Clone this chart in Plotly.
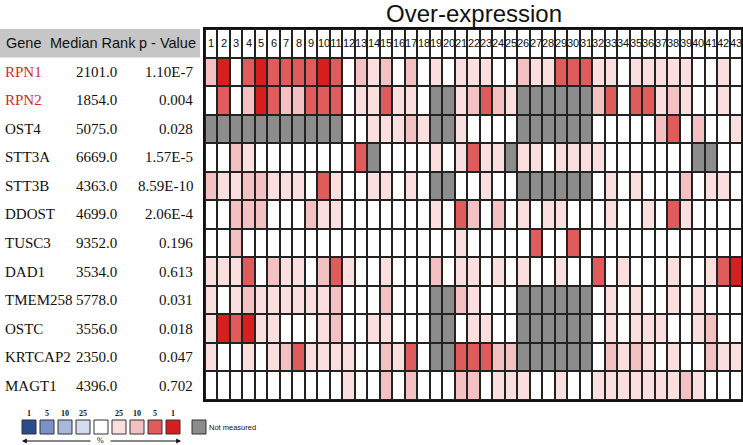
import plotly.graph_objects as go

W, H = 743, 445
G = -1  # not measured

genes = ["RPN1", "RPN2", "OST4", "STT3A", "STT3B", "DDOST", "TUSC3", "DAD1",
         "TMEM258", "OSTC", "KRTCAP2", "MAGT1"]
gene_colors = ["#d42a24", "#d42a24"] + ["#111111"] * 10
median_rank = ["2101.0", "1854.0", "5075.0", "6669.0", "4363.0", "4699.0",
               "9352.0", "3534.0", "5778.0", "3556.0", "2350.0", "4396.0"]
p_values = ["1.10E-7", "0.004", "0.028", "1.57E-5", "8.59E-10", "2.06E-4",
            "0.196", "0.613", "0.031", "0.018", "0.047", "0.702"]
columns = list(range(1, 44))

# level: 0 none, 1 = top 25%, 2 = top 10%, 3 = top 5%, 4 = top 1%, G = not measured
RPN1 = [2,4,0,3,4,3,3,3,3,4,3, 0,2,1,2,0,2,0,1,0,1, 1,1,0,0,2,1,1,3,3,3, 1,1,0,1,1,1,1,1,0,0,1,0]
RPN2 = [0,3,0,2,4,3,2,2,3,3,3, 0,1,1,3,1,1,0,G,G,1, 2,3,2,1,G,G,G,G,G,G, 2,3,0,3,3,1,2,1,0,0,1,0]
OST4 = [G,G,G,G,G,G,G,G,G,G,G, 0,0,1,1,1,2,1,G,G,1, 0,0,0,0,G,G,G,G,G,G, 0,0,0,0,0,2,3,0,2,0,0,1]
STT3A = [0,0,2,1,0,0,0,0,0,0,0, 0,3,G,0,0,0,0,1,0,1, 3,1,1,G,1,1,0,1,1,1, 1,0,0,0,0,0,0,0,G,G,0,0]
STT3B = [2,1,1,2,2,1,1,1,0,3,1, 0,0,1,1,0,1,0,G,G,0, 0,1,0,0,G,G,G,G,G,G, 0,1,0,1,0,0,0,2,0,1,1,0]
DDOST = [0,0,2,2,2,0,0,0,2,1,1, 0,0,0,0,0,0,0,1,0,3, 2,0,2,0,1,0,1,1,0,0, 0,1,0,0,1,0,3,1,0,0,0,0]
TUSC3 = [0,0,2,0,0,0,0,0,0,0,0, 0,0,0,0,0,0,0,0,0,1, 0,0,0,0,0,3,0,0,3,0, 0,0,0,0,0,0,0,0,0,0,0,0]
DAD1 = [1,1,1,3,0,2,1,1,0,2,3, 1,0,0,1,0,0,0,2,0,1, 1,0,1,0,1,0,0,1,0,0, 3,0,1,0,0,0,1,0,0,1,3,4]
TMEM258 = [1,0,1,2,1,1,1,1,1,1,2, 0,0,0,2,0,0,0,G,G,2, 1,0,0,0,G,G,G,G,G,G, 0,1,0,1,0,0,1,0,1,0,0,0]
OSTC = [1,4,3,4,1,1,0,0,0,1,2, 0,0,1,1,0,0,0,G,G,0, 1,1,0,0,G,G,G,G,G,G, 0,1,0,1,1,1,0,0,1,2,0,0]
KRTCAP2 = [1,0,0,1,0,1,2,3,1,1,1, 1,0,0,2,1,3,0,G,G,3, 3,3,2,2,G,G,G,G,G,G, 0,2,1,2,1,0,1,0,0,2,1,1]
MAGT1 = [0,0,0,0,0,0,0,0,0,0,0, 1,0,0,2,0,2,0,0,0,2, 2,0,1,1,1,0,0,1,0,0, 1,1,1,1,1,1,1,2,1,0,0,0]
rows = [RPN1, RPN2, OST4, STT3A, STT3B, DDOST, TUSC3, DAD1, TMEM258, OSTC, KRTCAP2, MAGT1]

legend_labels = ["1", "5", "10", "25", "", "25", "10", "5", "1"]
legend_colors = ["#2b4c8c", "#7a92c8", "#a8b7dc", "#d4dcef", "#ffffff",
                 "#fbdfdf", "#f4c1c3", "#e05c5c", "#d81f1f"]
gray = "#8c8c8c"
lvl_colors = [gray, "#ffffff", "#fbdfdf", "#f4c1c3", "#e05c5c", "#d81f1f"]

# header row (column numbers) + data rows
z = [[0] * len(columns)] + rows
text = [[str(c) for c in columns]] + [[""] * len(columns) for _ in rows]
yvals = list(range(len(z)))

cs = []
n = len(lvl_colors)
for i, c in enumerate(lvl_colors):
    cs.append([i / n, c])
    cs.append([(i + 1) / n, c])

fig = go.Figure(go.Heatmap(
    z=z, x=columns, y=yvals, text=text, texttemplate="%{text}",
    textfont=dict(family="Liberation Sans, Arial", size=11, color="#111"),
    colorscale=cs, zmin=-1.5, zmax=4.5, showscale=False,
    xgap=2, ygap=2, hoverinfo="skip"))

x0p, x1p = 205 / W, 742 / W
y0p, y1p = 1 - 400 / H, 1 - 29 / H
fig.update_xaxes(domain=[x0p, x1p], range=[0.5, 43.5], showticklabels=False,
                 showgrid=False, zeroline=False, showline=True, mirror=True,
                 linecolor="#111", linewidth=1.5)
fig.update_yaxes(domain=[y0p, y1p], range=[12.5, -0.5], showticklabels=False,
                 showgrid=False, zeroline=False, showline=True, mirror=True,
                 linecolor="#111", linewidth=1.5)

ann = []
shapes = []
# title
ann.append(dict(text="Over-expression", x=(x0p + x1p) / 2, y=1 - 13 / H,
                xref="paper", yref="paper", xanchor="center", yanchor="middle",
                showarrow=False,
                font=dict(family="Liberation Sans, Arial", size=24, color="#111")))
# table header band
shapes.append(dict(type="rect", xref="paper", yref="y", x0=0, x1=200 / W,
                   y0=-0.5, y1=0.5, fillcolor="#c6c6c6", line=dict(width=0), layer="below"))
hfont = dict(family="Liberation Sans, Arial", size=14.5, color="#111")
ann.append(dict(text="Gene", x=4 / W, y=0, xref="paper", yref="y", xanchor="left",
                yanchor="middle", showarrow=False, font=hfont))
ann.append(dict(text="Median Rank", x=48 / W, y=0, xref="paper", yref="y", xanchor="left",
                yanchor="middle", showarrow=False, font=hfont))
ann.append(dict(text="p - Value", x=198 / W, y=0, xref="paper", yref="y", xanchor="right",
                yanchor="middle", showarrow=False, font=hfont))
tfont = "Liberation Serif, Times New Roman"
for i, g in enumerate(genes):
    yy = i + 1
    ann.append(dict(text=g, x=3 / W, y=yy, xref="paper", yref="y", xanchor="left",
                    yanchor="middle", showarrow=False,
                    font=dict(family=tfont, size=15, color=gene_colors[i])))
    ann.append(dict(text=median_rank[i], x=119 / W, y=yy, xref="paper", yref="y",
                    xanchor="right", yanchor="middle", showarrow=False,
                    font=dict(family=tfont, size=15, color="#111")))
    ann.append(dict(text=p_values[i], x=195 / W, y=yy, xref="paper", yref="y",
                    xanchor="right", yanchor="middle", showarrow=False,
                    font=dict(family=tfont, size=15, color="#111")))

# colour key
def px(x):
    return x / W

def py(y):
    return 1 - y / H

for i, (lab, col) in enumerate(zip(legend_labels, legend_colors)):
    lx = 22 + 18 * i
    shapes.append(dict(type="rect", xref="paper", yref="paper", x0=px(lx), x1=px(lx + 14),
                       y0=py(434), y1=py(420), fillcolor=col,
                       line=dict(color="#333", width=1)))
    if lab:
        ann.append(dict(text="<b>%s</b>" % lab, x=px(lx + 7), y=py(413), xref="paper",
                        yref="paper", xanchor="center", yanchor="middle", showarrow=False,
                        font=dict(family=tfont, size=8, color="#111")))
shapes.append(dict(type="rect", xref="paper", yref="paper", x0=px(192), x1=px(206),
                   y0=py(434), y1=py(420), fillcolor=gray, line=dict(color="#333", width=1)))
ann.append(dict(text="Not measured", x=px(207), y=py(427), xref="paper", yref="paper",
                xanchor="left", yanchor="middle", showarrow=False,
                font=dict(family="Liberation Sans, Arial", size=7.5, color="#111")))
ann.append(dict(text="%", x=px(100), y=py(440), xref="paper", yref="paper",
                xanchor="center", yanchor="middle", showarrow=False,
                font=dict(family=tfont, size=8, color="#111")))
ann.append(dict(text="", x=px(22), y=py(441), ax=70, ay=0, xref="paper",
                yref="paper", showarrow=True,
                arrowhead=2, arrowsize=0.8, arrowwidth=1.2, arrowcolor="#111"))
ann.append(dict(text="", x=px(181), y=py(441), ax=-72, ay=0, xref="paper",
                yref="paper", showarrow=True,
                arrowhead=2, arrowsize=0.8, arrowwidth=1.2, arrowcolor="#111"))

fig.update_layout(width=W, height=H, margin=dict(l=0, r=0, t=0, b=0),
                  paper_bgcolor="white", plot_bgcolor="#222",
                  annotations=ann, shapes=shapes, showlegend=False)
fig.write_html("out.html", config={"displayModeBar": False},
               post_script="document.body.style.margin='0';document.body.style.overflow='hidden';")
